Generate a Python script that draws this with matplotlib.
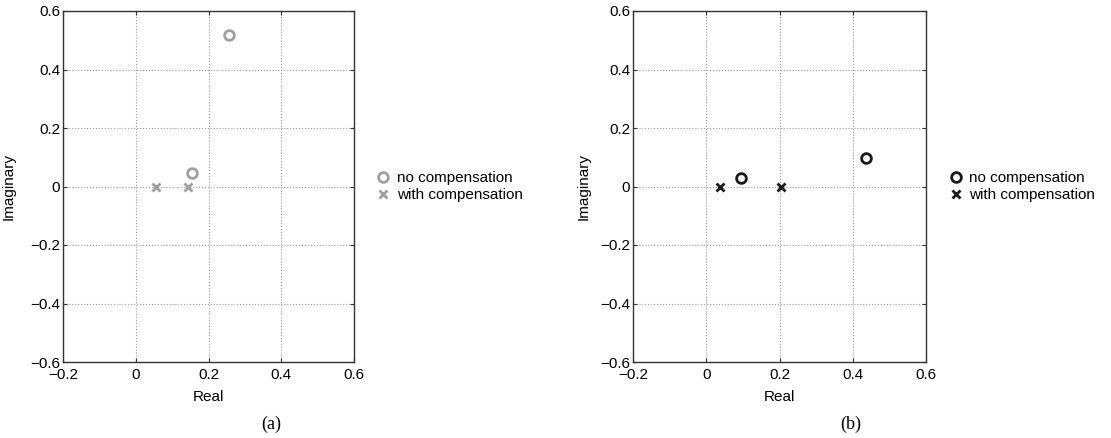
import numpy as np
import matplotlib.pyplot as plt

plt.rcParams['font.family'] = ['Liberation Sans', 'DejaVu Sans']

# panel (a)
a_no_re = [0.256, 0.154]
a_no_im = [0.517, 0.047]
a_with_re = [0.055, 0.145]
a_with_im = [0.0, 0.0]

# panel (b)
b_no_re = [0.096, 0.437]
b_no_im = [0.030, 0.097]
b_with_re = [0.038, 0.203]
b_with_im = [0.0, 0.0]

labels = ['no compensation', 'with compensation']
captions = ['(a)', '(b)']
colors = ['#a0a0a0', '#1a1a1a']

W, H = 1111, 438
fig = plt.figure(figsize=(W / 100, H / 100), dpi=100)

# axes boxes in pixels: left, right, top, bottom
boxes = [(63, 354, 11, 362), (633, 926, 11, 362)]
ylab_x = [16, 591]
cap_x = [271, 851]
data = [(a_no_re, a_no_im, a_with_re, a_with_im),
        (b_no_re, b_no_im, b_with_re, b_with_im)]

for i in range(2):
    l, r, t, b = boxes[i]
    ax = fig.add_axes([l / W, 1 - b / H, (r - l) / W, (b - t) / H])
    nr, ni, wr, wi = data[i]
    c = colors[i]
    ax.plot(nr, ni, 'o', ms=7, mfc='none', mec=c, mew=2.0, ls='none', label=labels[0])
    ax.plot(wr, wi, 'x', ms=5.5, mec=c, mew=2.0, ls='none', label=labels[1])
    ax.set_xlim(-0.2, 0.6)
    ax.set_ylim(-0.6, 0.6)
    ax.set_xticks([-0.2, 0, 0.2, 0.4, 0.6])
    ax.set_xticklabels(['\u22120.2', '0', '0.2', '0.4', '0.6'])
    ax.set_yticks([-0.6, -0.4, -0.2, 0, 0.2, 0.4, 0.6])
    ax.set_yticklabels(['\u22120.6', '\u22120.4', '\u22120.2', '0', '0.2', '0.4', '0.6'])
    ax.tick_params(direction='in', top=True, right=True, labelsize=11, length=3, width=0.8,
                   color='#333333')
    ax.tick_params(axis='x', pad=4)
    ax.tick_params(axis='y', pad=2)
    ax.grid(True, ls=':', color='#999999', lw=0.8)
    for s in ax.spines.values():
        s.set_linewidth(1.0)
        s.set_color('#333333')
    ax.set_xlabel('Real', fontsize=11)
    ax.xaxis.set_label_coords(0.5, (b - 390) / (b - t))
    ax.set_ylabel('Imaginary', fontsize=11)
    ax.yaxis.set_label_coords((ylab_x[i] - l) / (r - l), 0.5)
    ax.legend(loc='center left', bbox_to_anchor=(1.08, 0.5), frameon=False, fontsize=11,
              handletextpad=0.5, labelspacing=0.2, handlelength=0.8, borderaxespad=0,
              borderpad=0)
    fig.text(cap_x[i] / W, 1 - 424 / H, captions[i], ha='center', va='center',
             fontsize=13, family=['Liberation Serif', 'DejaVu Serif'])

fig.savefig('out.png', dpi=100)
